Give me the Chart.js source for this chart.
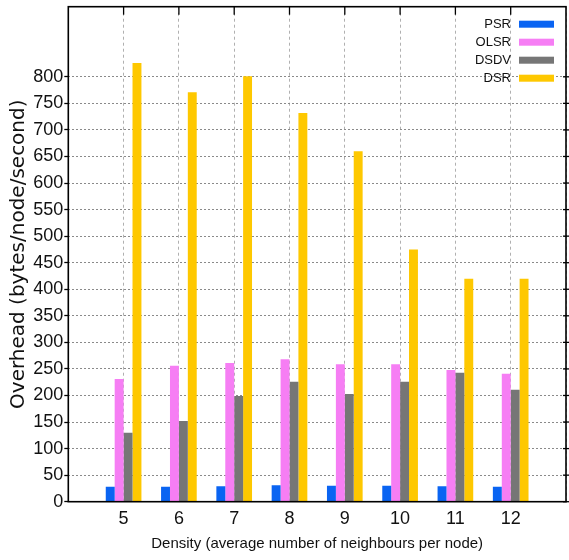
<!DOCTYPE html>
<html><head><meta charset="utf-8">
<script src="https://cdn.jsdelivr.net/npm/chart.js@4/dist/chart.umd.min.js"></script>
<style>html,body{margin:0;padding:0;background:#fff;overflow:hidden;} #wrap{width:569px;height:560px;position:relative;}</style>
</head><body><div id="wrap"><canvas id="c"></canvas></div>
<script>
const categories = ['5','6','7','8','9','10','11','12'];
const seriesNames = ['PSR','OLSR','DSDV','DSR'];
const psr  = [28, 28, 29, 31, 30, 30, 29, 28];
const olsr = [231, 256, 261, 268, 259, 259, 248, 241];
const dsdv = [130, 152, 199, 226, 203, 226, 243, 211];
const dsr  = [826, 771, 801, 732, 660, 475, 420, 420];
const yTickValues = [0,50,100,150,200,250,300,350,400,450,500,550,600,650,700,750,800];
const yMax = 932;

const seriesColors = ['#0a64f2', '#f67ef4', '#767676', '#fec800'];
const seriesValues = [psr, olsr, dsdv, dsr];

const SANS = '"Liberation Sans", Arial, sans-serif';
const padLabels = ['', ...categories, ''];
const pad = arr => [null, ...arr, null];

const framePlugin = {
  id: 'frame',
  afterDraw(chart) {
    const {ctx, chartArea: a, scales} = chart;
    ctx.save();
    ctx.strokeStyle = '#000';
    ctx.setLineDash([]);
    ctx.lineWidth = 1.3;
    categories.forEach((c, i) => {
      const x = scales.x.getPixelForValue(i + 1);
      ctx.beginPath(); ctx.moveTo(x, a.top); ctx.lineTo(x, a.top + 8); ctx.stroke();
    });
    scales.y.ticks.forEach(t => {
      const y = scales.y.getPixelForValue(t.value);
      ctx.beginPath(); ctx.moveTo(a.right - 3, y); ctx.lineTo(a.right + 4, y); ctx.stroke();
    });
    ctx.lineWidth = 1.6;
    ctx.strokeRect(a.left, a.top, a.right - a.left, a.bottom - a.top);
    // legend
    ctx.font = '13px ' + SANS;
    ctx.textAlign = 'right';
    ctx.textBaseline = 'middle';
    chart.data.datasets.forEach((ds, i) => {
      const y = a.top + 17.5 + i * 18;
      ctx.fillStyle = '#111';
      ctx.fillText(ds.label, a.right - 55, y);
      ctx.fillStyle = ds.backgroundColor;
      ctx.fillRect(a.right - 47, y - 3.5, 35, 7);
    });
    ctx.restore();
  }
};

new Chart(document.getElementById('c'), {
  type: 'bar',
  data: {
    labels: padLabels,
    datasets: seriesNames.map((name, i) => ({
      label: name,
      data: pad(seriesValues[i]),
      backgroundColor: seriesColors[i],
      borderWidth: 0,
      barPercentage: 1.0,
      categoryPercentage: 0.645
    }))
  },
  options: {
    responsive: true,
    maintainAspectRatio: false,
    animation: false,
    layout: { padding: { top: 6.7, right: 3, left: 0, bottom: 0 } },
    plugins: { legend: { display: false }, tooltip: { enabled: false } },
    scales: {
      x: {
        type: 'category',
        offset: false,
        grid: { offset: false, color: '#b0b0b0', lineWidth: 1, drawTicks: false },
        border: { display: false, dash: [3, 3] },
        ticks: { font: { family: SANS, size: 18 }, color: '#111', padding: 6.8, autoSkip: false, maxRotation: 0 },
        title: { display: true, text: 'Density (average number of neighbours per node)', font: { family: SANS, size: 15 }, color: '#111', padding: { top: 0, bottom: 7.2 } },
        afterFit: s => { s.height = 58.3; s.paddingLeft = 0; s.paddingRight = 0; }
      },
      y: {
        min: 0,
        max: yMax,
        afterBuildTicks: s => { s.ticks = yTickValues.map(v => ({ value: v })); },
        grid: { color: '#8a8a8a', lineWidth: 1, tickColor: '#000', tickLength: 4, tickWidth: 1.3, tickBorderDash: [] },
        border: { display: false, dash: [2, 2] },
        ticks: { font: { family: SANS, size: 18 }, color: '#111', padding: 1 },
        title: { display: true, text: 'Overhead (bytes/node/second)', font: { family: '"DejaVu Sans", sans-serif', size: 20 }, color: '#111', padding: { top: 7, bottom: 0 } },
        afterFit: s => { s.width = 68.3; s.paddingTop = 0; s.paddingBottom = 0; }
      }
    }
  },
  plugins: [framePlugin]
});
</script>
</body></html>
